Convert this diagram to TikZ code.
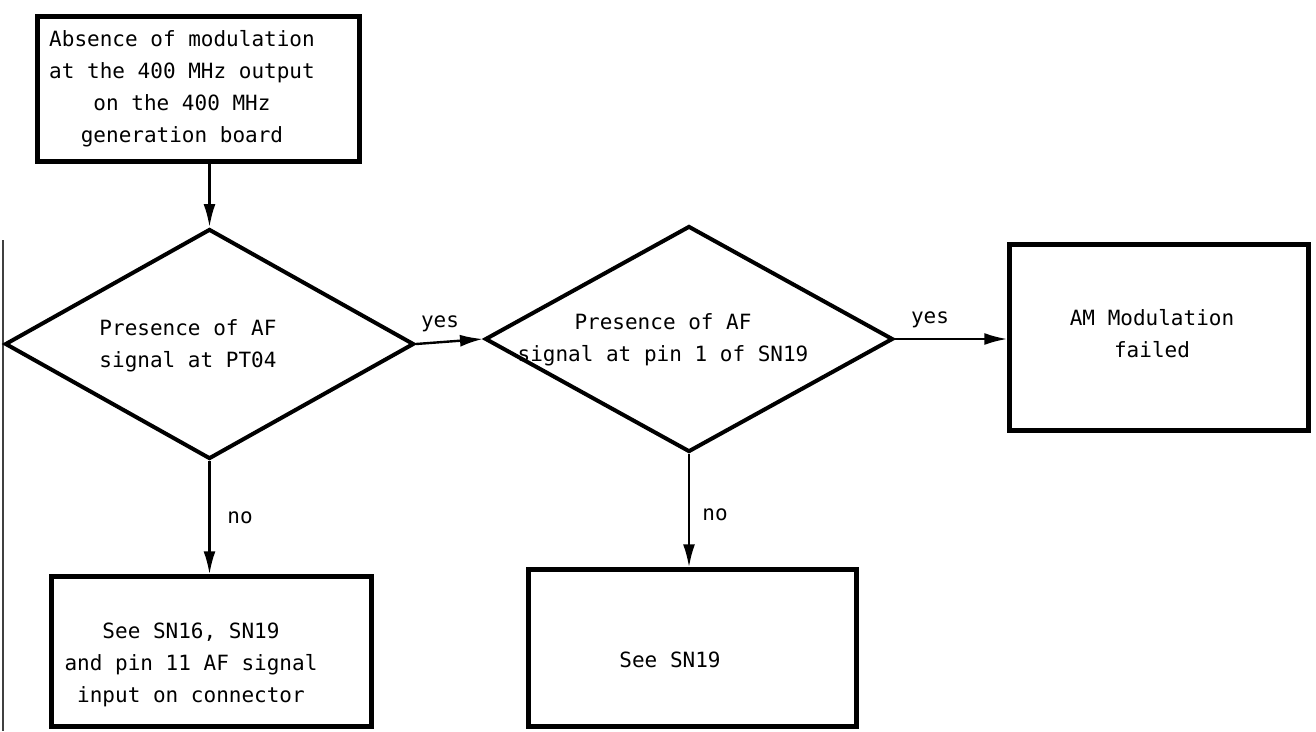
\documentclass[tikz,border=0pt]{standalone}
\usepackage{fontspec}
\setmonofont{DejaVu Sans Mono}
\usetikzlibrary{shapes.geometric,arrows.meta}
\begin{document}
\begin{tikzpicture}[x=1pt,y=-1pt,
  txt/.style={font=\ttfamily\fontsize{21}{32}\selectfont,inner sep=0pt,align=center},
  box/.style={draw,rectangle,line width=4.5pt,inner sep=0pt},
  decision/.style={draw,diamond,line width=4pt,inner sep=0pt},
  arr/.style={line width=2.4pt,-{Latex[length=23pt,width=12pt]}},
  lbl/.style={txt}]
\useasboundingbox (0,0) rectangle (1316,731);
% scan edge line at the left
\coordinate (edgeA) at (3,240);
\coordinate (edgeB) at (3,731);
\draw[line width=1.4pt,black!75] (edgeA) -- (edgeB);

% shapes
\node[box,minimum width=322,minimum height=145] (start) at (198.5,89) {};
\node[decision,minimum width=409,minimum height=230] (d1) at (209.5,344) {};
\node[decision,minimum width=408,minimum height=226] (d2) at (689,339) {};
\node[box,minimum width=299,minimum height=186] (am) at (1159,337.5) {};
\node[box,minimum width=320,minimum height=150] (b1) at (211.5,651.5) {};
\node[box,minimum width=328,minimum height=157] (b2) at (692.5,648) {};

% texts
\node[txt] (startT) at (182,89)
  {Absence of modulation\\at the 400 MHz output\\on the 400 MHz\\generation board};
\node[txt,align=left] (d1T) at (188,346) {Presence of AF\\signal at PT04};
\node[txt] (d2T) at (663,340) {Presence of AF\\signal at pin 1 of SN19};
\node[txt] (amT) at (1152,334) {AM Modulation\\failed};
\node[txt] (b1T) at (191,665) {See SN16, SN19\\and pin 11 AF signal\\input on connector};
\node[txt] (b2T) at (670,660) {See SN19};

% connectors
\draw[arr] (start.south -| d1.north) -- (d1.north);
\draw[arr] (d1.east) -- (d2.west);
\draw[arr] (d2.east) -- (am.west |- d2.east);
\draw[arr] (d1.south) -- (d1.south |- b1.north);
\draw[arr] (d2.south) -- (d2.south |- b2.north);

% connector labels
\node[lbl] (y1) at (440,324) {yes};
\node[lbl] (y2) at (930,320) {yes};
\node[lbl] (n1) at (240,518) {no};
\node[lbl] (n2) at (715,515) {no};
\end{tikzpicture}
\end{document}
